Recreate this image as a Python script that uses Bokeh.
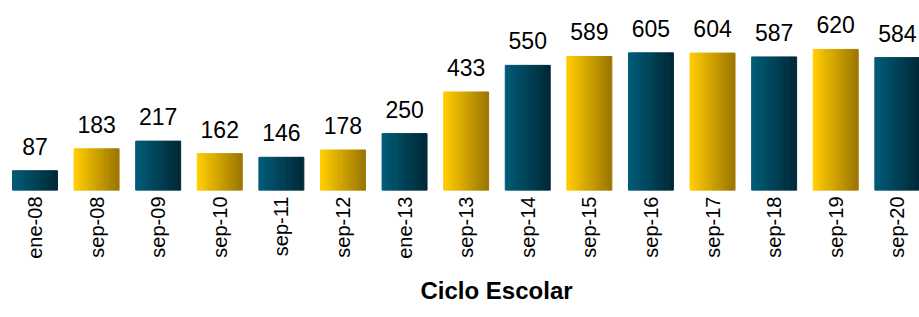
import math
import numpy as np
from bokeh.plotting import figure
from bokeh.models import ColumnDataSource, Range1d, FixedTicker, LabelSet, Title
from bokeh.transform import dodge
from bokeh.core.properties import value
from bokeh.embed import file_html
from bokeh.resources import INLINE

categories = ["ene-08", "sep-08", "sep-09", "sep-10", "sep-11", "sep-12", "ene-13",
              "sep-13", "sep-14", "sep-15", "sep-16", "sep-17", "sep-18", "sep-19", "sep-20"]
values = [87, 183, 217, 162, 146, 178, 250, 433, 550, 589, 605, 604, 587, 620, 584]
series_kind = ["teal", "gold", "teal", "gold", "teal", "gold", "teal",
               "gold", "teal", "gold", "teal", "gold", "teal", "gold", "teal"]
axis_title = "Ciclo Escolar"

gradients = {
    "teal": ((0x00, 0x5b, 0x76), (0x00, 0x2a, 0x39)),
    "gold": ((0xff, 0xcc, 0x00), (0x9e, 0x78, 0x00)),
}

FONT = "Liberation Sans"
BAR_W = 0.73
N_STRIPS = 16

def mix(c0, c1, t):
    return "#%02x%02x%02x" % tuple(int(round(a + (b - a) * t)) for a, b in zip(c0, c1))

positions = list(range(len(categories)))
data = dict(pos=positions, cat=categories, val=values, lbl=[str(v) for v in values])
for k in range(N_STRIPS):
    t = k / (N_STRIPS - 1)
    data["c%d" % k] = [mix(*gradients[s], t) for s in series_kind]
src = ColumnDataSource(data)

p = figure(x_range=Range1d(-0.56, 14.36), y_range=Range1d(0, 835),
           width=919, height=317,
           output_backend="svg", toolbar_location=None,
           min_border_left=0, min_border_right=0, min_border_top=0,
           min_border_bottom=0, outline_line_color=None,
           background_fill_color="white", border_fill_color="white")

sw = BAR_W / N_STRIPS
for k in range(N_STRIPS):
    off = -BAR_W / 2 + sw * (k + 0.5)
    col = "c%d" % k
    p.vbar(x=dodge("pos", off), top="val", bottom=0,
           width=sw, fill_color=col, line_color=col, line_width=1, source=src)

labels = LabelSet(x="pos", y="val", text="lbl", source=src, y_offset=16,
                  text_align="center", text_baseline="alphabetic",
                  text_font=value(FONT), text_font_size="23px", text_color="#000000")
p.add_layout(labels)

p.yaxis.visible = False
p.grid.visible = False
ax = p.xaxis[0]
ax.ticker = FixedTicker(ticks=positions)
ax.major_label_overrides = {i: c for i, c in zip(positions, categories)}
ax.minor_tick_line_color = None
ax.axis_line_color = None
ax.major_tick_line_color = None
ax.major_tick_out = 0
ax.major_tick_in = 0
ax.major_label_orientation = math.pi / 2
ax.major_label_standoff = 6
ax.major_label_text_font = FONT
ax.major_label_text_font_size = "20px"
ax.major_label_text_color = "#000000"

p.add_layout(Title(text=axis_title, align="left", offset=420, standoff=27,
                   text_line_height=0.6,
                   text_font=FONT, text_font_size="24px", text_font_style="bold",
                   text_color="#000000"), "below")

open("out.html", "w").write(file_html(p, INLINE))
